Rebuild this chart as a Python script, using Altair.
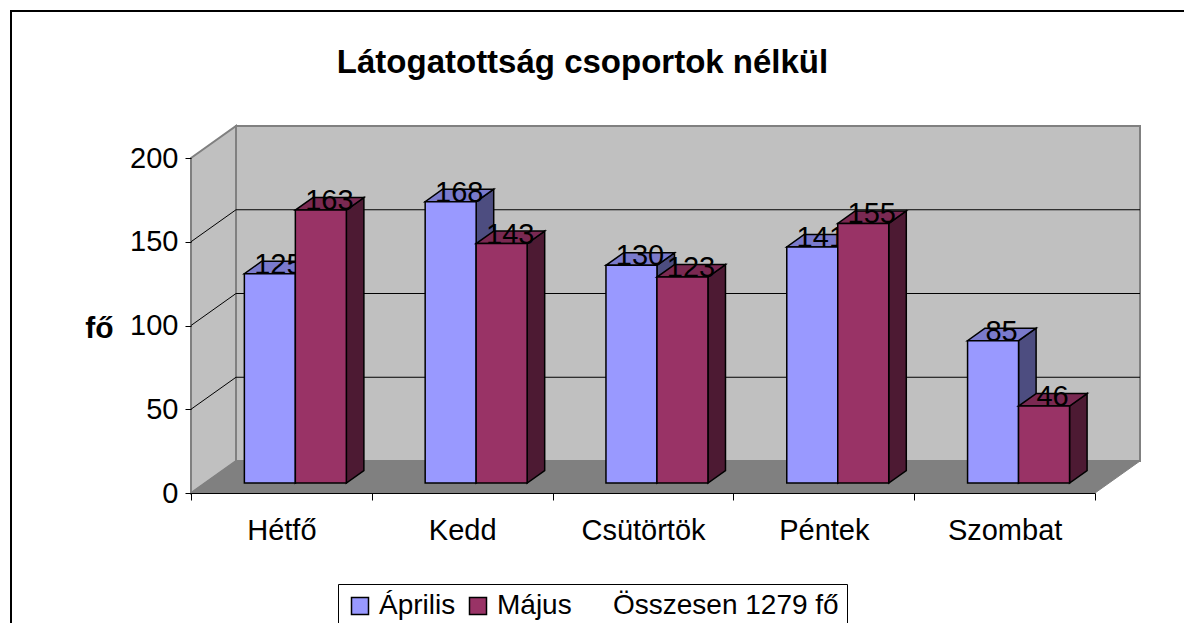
import json
import altair as alt
import pandas as pd

# ---------------- data ----------------
days = ["Hétfő", "Kedd", "Csütörtök", "Péntek", "Szombat"]
months = ["Április", "Május"]
april = [125, 168, 130, 141, 85]
may = [163, 143, 123, 155, 46]
series = [april, may]
total = sum(april) + sum(may)
total_label = f"Összesen {total} fő"
y_ticks = [0, 50, 100, 150, 200]
title_text = "Látogatottság csoportok nélkül"
y_title = "fő"

# ---------------- style ----------------
FONT = "Liberation Sans"
front_colors = ["#9999FF", "#993366"]
top_colors = ["#7A7ACC", "#7A2952"]
side_colors = ["#4D4D80", "#4D1A33"]
WALL = "#C0C0C0"
FLOOR = "#808080"
EDGE = "#808080"

W, H = 904, 335
N = len(days)
YMAX = y_ticks[-1]
# oblique projection: full depth shifts by 45px right, 32px up
DX = 45 * N / W          # in category units
DY = 32 * YMAX / H       # in value units
D0, D1 = 0.31, 0.70      # bar front / back depth
BW = 0.282               # bar width in category units


def px(u, d):
    return u + d * DX


def py(v, d):
    return v + d * DY


xs = alt.Scale(domain=[0, N], nice=False, zero=False)
ys = alt.Scale(domain=[0, YMAX], nice=False, zero=False)

label_expr = "datum.value < %d ? %s[round(datum.value)] : ''" % (
    N, json.dumps(days, ensure_ascii=False))

x_axis = alt.Axis(values=list(range(N + 1)), labelExpr=label_expr, labelOffset=W / N / 2,
                  title=None, grid=False, domain=True, domainColor="black",
                  ticks=True, tickColor="black", tickSize=7, labelFont=FONT,
                  labelFontSize=29, labelColor="black", labelPadding=16,
                  labelFlush=False, labelOverlap=False, zindex=1)
y_axis = alt.Axis(values=y_ticks, title=y_title, titleAngle=0, titleX=-92, titleY=179,
                  titleAlign="center", titleBaseline="alphabetic", titleFont=FONT,
                  titleFontSize=30, titleFontWeight="bold", titleColor="black",
                  labelFont=FONT, labelFontSize=29, labelColor="black", labelPadding=7,
                  tickSize=6, tickColor="black", domain=False, grid=False, zindex=1)


def X(field, **kw):
    return alt.X(field, scale=xs, axis=x_axis, **kw)


def Y(field, **kw):
    return alt.Y(field, scale=ys, axis=y_axis, **kw)


# ---------------- walls / floor / grid ----------------
left_wall = pd.DataFrame({
    "xs": [px(0, 0), px(0, 1)],
    "ylo": [py(0, 0), py(0, 1)],
    "yhi": [py(YMAX, 0), py(YMAX, 1)],
})
back_wall = pd.DataFrame({"x0": [px(0, 1)], "x1": [px(N, 1)],
                          "y0": [py(0, 1)], "y1": [py(YMAX, 1)]})
floor = pd.DataFrame({
    "ys": [py(0, 0), py(0, 1)],
    "xl": [px(0, 0), px(0, 1)],
    "xr": [px(N, 0), px(N, 1)],
})
grid_rows = []
for v in y_ticks[1:-1]:
    grid_rows.append({"x0": px(0, 1), "x1": px(N, 1), "y0": py(v, 1), "y1": py(v, 1)})
    grid_rows.append({"x0": px(0, 0), "x1": px(0, 1), "y0": py(v, 0), "y1": py(v, 1)})
grid = pd.DataFrame(grid_rows)

left_layer = alt.Chart(left_wall).mark_area(
    fill=WALL, stroke=EDGE, strokeWidth=2, orient="vertical").encode(
    x=X("xs:Q"), y=Y("yhi:Q", stack=None), y2="ylo:Q",
)
back_layer = alt.Chart(back_wall).mark_rect(fill=WALL, stroke=EDGE, strokeWidth=2).encode(
    x=X("x0:Q"), x2="x1:Q", y=Y("y0:Q"), y2="y1:Q",
)
floor_layer = alt.Chart(floor).mark_area(
    fill=FLOOR, stroke=EDGE, strokeWidth=1, orient="horizontal").encode(
    y=Y("ys:Q"), x=X("xl:Q", stack=None), x2="xr:Q",
)
grid_layer = alt.Chart(grid).mark_rule(color="black", strokeWidth=1).encode(
    x=X("x0:Q"), x2="x1:Q", y=Y("y0:Q"), y2="y1:Q",
)

# ---------------- bars ----------------
legend = alt.Legend(title=None, orient="none", legendX=147, legendY=426,
                    direction="horizontal", symbolType="square", symbolSize=289,
                    symbolStrokeWidth=1.5, labelFont=FONT, labelFontSize=28,
                    labelColor="black", labelLimit=0, labelOffset=5, columnPadding=8,
                    padding=8, strokeColor="black", fillColor="white")
legend_domain = months + [total_label]
fill_scale = alt.Scale(domain=legend_domain, range=front_colors + ["transparent"])
stroke_scale = alt.Scale(domain=legend_domain, range=["black", "black", "transparent"])

bar_layers = []
for j, (month, vals) in enumerate(zip(months, series)):
    fronts, sides, tops, labels = [], [], [], []
    for i, (day, v) in enumerate(zip(days, vals)):
        u0 = i + 0.5 - BW + j * BW
        u1 = u0 + BW
        key = f"{day}-{month}"
        fronts.append({"month": month, "day": day, "value": v,
                       "x0": px(u0, D0), "x1": px(u1, D0),
                       "y0": py(0, D0), "y1": py(v, D0)})
        for d in (D0, D1):
            sides.append({"key": key, "xs": px(u1, d), "ylo": py(0, d), "yhi": py(v, d)})
            tops.append({"key": key, "ys": py(v, d), "xl": px(u0, d), "xr": px(u1, d)})
        labels.append({"value": v, "lx": px((u0 + u1) / 2, 0.5), "ly": py(v, D0)})

    side_layer = alt.Chart(pd.DataFrame(sides)).mark_area(
        fill=side_colors[j], stroke="black", strokeWidth=1.5, orient="vertical").encode(
        x=X("xs:Q"), y=Y("yhi:Q", stack=None), y2="ylo:Q", detail="key:N",
    )
    top_layer = alt.Chart(pd.DataFrame(tops)).mark_area(
        fill=top_colors[j], stroke="black", strokeWidth=1.5, orient="horizontal").encode(
        y=Y("ys:Q"), x=X("xl:Q", stack=None), x2="xr:Q", detail="key:N",
    )
    front_layer = alt.Chart(pd.DataFrame(fronts)).mark_rect(strokeWidth=1.5).encode(
        x=X("x0:Q"), x2="x1:Q", y=Y("y0:Q"), y2="y1:Q",
        fill=alt.Fill("month:N", scale=fill_scale, legend=legend),
        stroke=alt.Stroke("month:N", scale=stroke_scale, legend=legend),
    )
    label_layer = alt.Chart(pd.DataFrame(labels)).mark_text(
        font=FONT, fontSize=29, color="black", align="center", baseline="alphabetic").encode(
        x=X("lx:Q"), y=Y("ly:Q"), text="value:Q",
    )
    bar_layers += [side_layer, top_layer, front_layer, label_layer]

# ---------------- frame & title ----------------
frame = alt.Chart(pd.DataFrame({"a": [0]})).mark_rect(
    fill="transparent", stroke="black", strokeWidth=2).encode(
    x=alt.value(-180), x2=alt.value(1100), y=alt.value(-147), y2=alt.value(700))
title = alt.Chart(pd.DataFrame({"t": [title_text]})).mark_text(
    font=FONT, fontSize=33, fontWeight="bold", color="black",
    align="center", baseline="alphabetic").encode(
    x=alt.value(391.5), y=alt.value(-85), text="t:N")

chart = alt.layer(
    frame, title, left_layer, back_layer, floor_layer, grid_layer, *bar_layers
).properties(
    width=W, height=H,
    autosize=alt.AutoSizeParams(type="none"),
    padding={"left": 183, "top": 150, "right": 1176 - 183 - W, "bottom": 615 - 150 - H},
    background="white",
).configure_view(stroke=None)

chart.save("out.html", embed_options={"renderer": "svg", "actions": False})
